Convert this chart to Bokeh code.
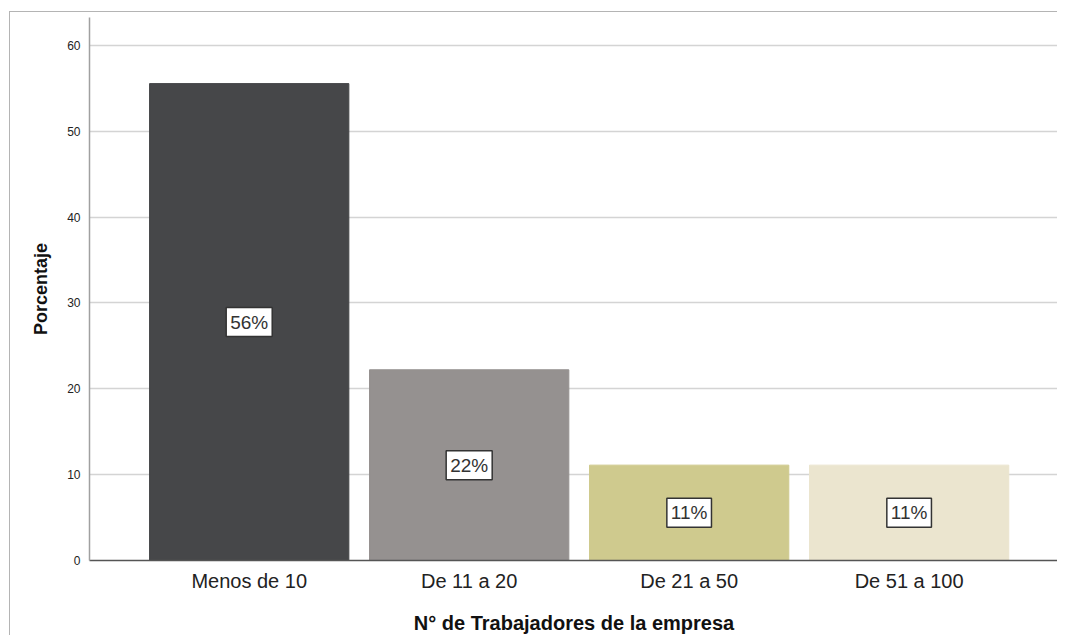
from bokeh.plotting import figure
from bokeh.models import ColumnDataSource, Range1d, FixedTicker
from bokeh.core.properties import value
from bokeh.embed import file_html
from bokeh.resources import INLINE

categories = ["Menos de 10", "De 11 a 20", "De 21 a 50", "De 51 a 100"]
percentages = [55.56, 22.22, 11.11, 11.11]
bar_labels = ["56%", "22%", "11%", "11%"]
colors = ["#464749", "#959190", "#cfca8e", "#ebe5cf"]
y_ticks = [0, 10, 20, 30, 40, 50, 60]

x = list(range(len(categories)))
src = ColumnDataSource(dict(
    x=x, top=percentages, mid=[v / 2 for v in percentages],
    label=bar_labels, color=colors))

FONT = "Liberation Sans"

p = figure(width=1048, height=624, output_backend="svg", toolbar_location=None,
           x_range=Range1d(-0.726, 3.679), y_range=Range1d(0, 63.26),
           min_border_left=79, min_border_top=5, min_border_bottom=75,
           min_border_right=0)
p.styles = {"border-top": "1px solid #b4b4b4", "border-left": "1px solid #b4b4b4",
            "margin-left": "9px", "margin-top": "11px"}
p.outline_line_color = None

p.vbar(x="x", top="top", width=0.906, bottom=0, source=src,
       fill_color="color", line_color="color", line_width=1)

p.text(x="x", y="mid", text="label", source=src,
       text_align="center", text_baseline="middle",
       text_font=value(FONT), text_font_size="19px", text_color="#333333",
       background_fill_color="white", border_line_color="#333333",
       border_line_width=1.5, padding=4)

# grid
p.xgrid.grid_line_color = None
p.ygrid.grid_line_color = "#d4d4d4"
p.ygrid.grid_line_width = 1.5
p.ygrid.ticker = FixedTicker(ticks=y_ticks)

# y axis
p.yaxis.ticker = FixedTicker(ticks=y_ticks)
p.yaxis.axis_line_color = "#a0a0a0"
p.yaxis.axis_line_width = 1.5
p.yaxis.major_tick_line_color = None
p.yaxis.minor_tick_line_color = None
p.yaxis.major_tick_out = 0
p.yaxis.minor_tick_out = 0
p.yaxis.major_label_standoff = 9
p.yaxis.major_label_text_font = FONT
p.yaxis.major_label_text_font_size = "12px"
p.yaxis.major_label_text_color = "#222222"
p.yaxis.axis_label = "Porcentaje"
p.yaxis.axis_label_text_font = FONT
p.yaxis.axis_label_text_font_style = "bold"
p.yaxis.axis_label_text_font_size = "18px"
p.yaxis.axis_label_text_color = "#111111"
p.yaxis.axis_label_standoff = 13

# x axis
p.xaxis.ticker = FixedTicker(ticks=x)
p.xaxis.major_label_overrides = {i: c for i, c in zip(x, categories)}
p.xaxis.axis_line_color = "#555555"
p.xaxis.axis_line_width = 1.5
p.xaxis.major_tick_line_color = None
p.xaxis.minor_tick_line_color = None
p.xaxis.major_tick_out = 0
p.xaxis.minor_tick_out = 0
p.xaxis.major_label_standoff = 9
p.xaxis.major_label_text_font = FONT
p.xaxis.major_label_text_font_size = "20px"
p.xaxis.major_label_text_color = "#222222"
p.xaxis.axis_label = "N° de Trabajadores de la empresa"
p.xaxis.axis_label_text_font = FONT
p.xaxis.axis_label_text_font_style = "bold"
p.xaxis.axis_label_text_font_size = "20px"
p.xaxis.axis_label_text_color = "#111111"
p.xaxis.axis_label_standoff = 17

open("out.html", "w").write(file_html(p, INLINE))
